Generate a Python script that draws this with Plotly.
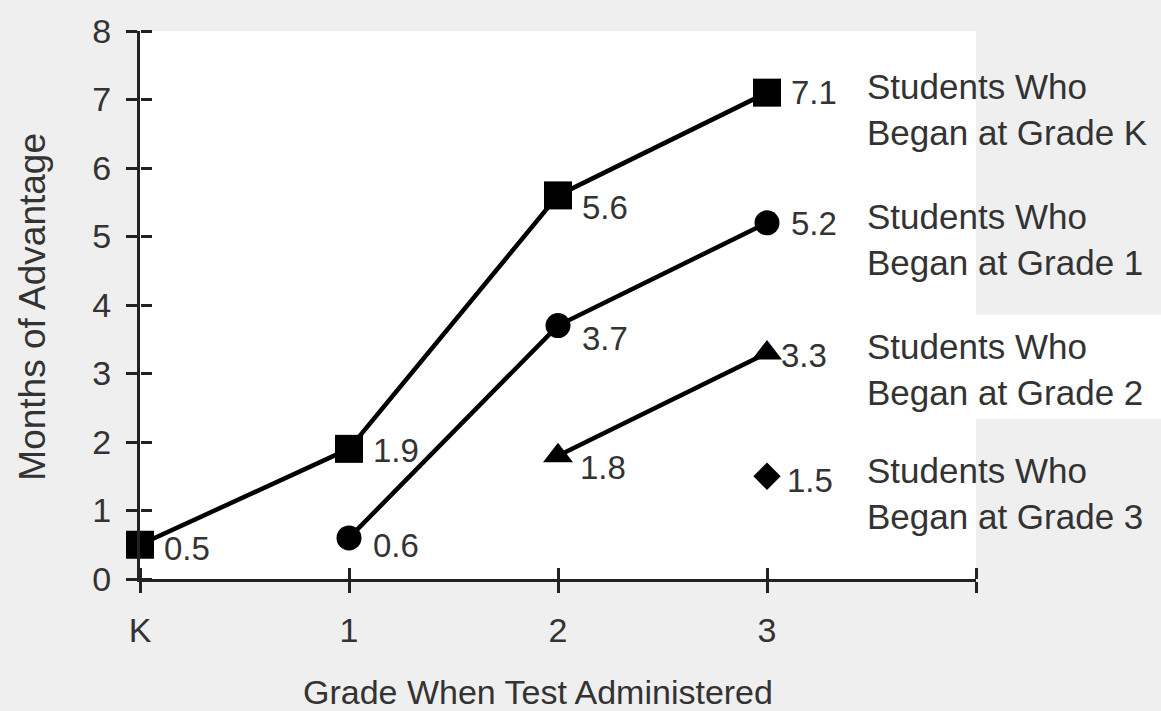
import plotly.graph_objects as go

# ---- data ----
grade_positions = [0, 1, 2, 3]
grade_tick_labels = ["K", "1", "2", "3"]

series_names = [
    "Students Who<br>Began at Grade K",
    "Students Who<br>Began at Grade 1",
    "Students Who<br>Began at Grade 2",
    "Students Who<br>Began at Grade 3",
]
series_x = [
    [0, 1, 2, 3],
    [1, 2, 3],
    [2, 3],
    [3],
]
series_y = [
    [0.5, 1.9, 5.6, 7.1],
    [0.6, 3.7, 5.2],
    [1.8, 3.3],
    [1.5],
]

# ---- styles ----
symbols = ["square", "circle", "triangle-up", "diamond"]
marker_sizes = [28, 25, 26, 21]
label_yshift = [
    [-4, -2, -12, 0],
    [-8, -13, -1],
    [-12, -3],
    [-4],
]
label_xshift = [
    [22, 22, 22, 22],
    [22, 22, 22],
    [20, 12],
    [18],
]
TEXT = "#333333"
AXIS = "#222222"
FONT = "Liberation Sans, Arial, sans-serif"

fig = go.Figure()
annotations = []
for i in range(len(series_names)):
    on_overlay = (i == len(series_names) - 1)
    fig.add_trace(go.Scatter(
        x=series_x[i], y=series_y[i], name=series_names[i],
        mode="lines+markers",
        line=dict(color="black", width=4.5),
        marker=dict(symbol=symbols[i], size=marker_sizes[i], color="black"),
        hoverinfo="x+y",
        cliponaxis=False,
        xaxis="x2" if on_overlay else "x",
        yaxis="y2" if on_overlay else "y",
    ))
    for j, (xv, yv) in enumerate(zip(series_x[i], series_y[i])):
        annotations.append(dict(
            x=xv, y=yv, xref="x", yref="y", text=f"{yv:.1f}",
            showarrow=False, xanchor="left", yanchor="middle",
            xshift=label_xshift[i][j], yshift=label_yshift[i][j],
            font=dict(family=FONT, size=33, color=TEXT),
        ))
    # legend-like label to the right of each series end
    annotations.append(dict(
        x=3.47, y=series_y[i][-1], xref="x", yref="y", text=series_names[i],
        showarrow=False, xanchor="left", yanchor="middle", align="left",
        yshift=-17,
        font=dict(family=FONT, size=35, color=TEXT),
    ))

annotations.append(dict(
    x=0.476, y=-0.206, xref="paper", yref="paper",
    text="Grade When Test Administered", showarrow=False,
    xanchor="center", yanchor="middle",
    font=dict(family=FONT, size=34, color=TEXT),
))
annotations.append(dict(
    x=-0.128, y=0.497, xref="paper", yref="paper",
    text="Months of Advantage", showarrow=False, textangle=-90,
    xanchor="center", yanchor="middle",
    font=dict(family=FONT, size=37, color=TEXT),
))

axis_common = dict(showgrid=False, zeroline=False, fixedrange=True)

fig.update_layout(
    width=1161, height=711,
    margin=dict(l=140, r=185, t=28, b=132),
    paper_bgcolor="#efefef",
    plot_bgcolor="white",
    showlegend=False,
    font=dict(family=FONT, color=TEXT),
    xaxis=dict(
        range=[0, 4], tickmode="array",
        tickvals=grade_positions + [4], ticktext=grade_tick_labels + [""],
        showline=True, linecolor=AXIS, linewidth=3,
        ticks="outside", ticklen=11, tickwidth=3, tickcolor=AXIS,
        tickfont=dict(family=FONT, size=34, color=TEXT),
        ticklabelstandoff=8,
        **axis_common,
    ),
    yaxis=dict(
        range=[0, 8], tickmode="linear", tick0=0, dtick=1,
        showline=True, linecolor=AXIS, linewidth=3,
        ticks="outside", ticklen=11, tickwidth=3, tickcolor=AXIS,
        tickfont=dict(family=FONT, size=34, color=TEXT),
        ticklabelstandoff=8,
        **axis_common,
    ),
    # overlay axes drawing the inner half of each crossing tick mark
    xaxis2=dict(
        range=[0, 4], overlaying="x", anchor="free", position=0, side="top",
        tickmode="array", tickvals=grade_positions + [4],
        showticklabels=False, showline=False,
        ticks="outside", ticklen=11, tickwidth=3, tickcolor=AXIS,
        **axis_common,
    ),
    yaxis2=dict(
        range=[0, 8], overlaying="y", anchor="free", position=0, side="right",
        tickmode="linear", tick0=0, dtick=1,
        showticklabels=False, showline=False,
        ticks="outside", ticklen=11, tickwidth=3, tickcolor=AXIS,
        **axis_common,
    ),
    annotations=annotations,
    shapes=[dict(
        type="rect", xref="paper", yref="y", x0=1.0, x1=1.25,
        y0=2.34, y1=3.86, fillcolor="white", line=dict(width=0),
        layer="below",
    )],
)

fig.write_html(
    "out.html",
    config={"displayModeBar": False},
    post_script="document.body.style.margin='0';",
)
